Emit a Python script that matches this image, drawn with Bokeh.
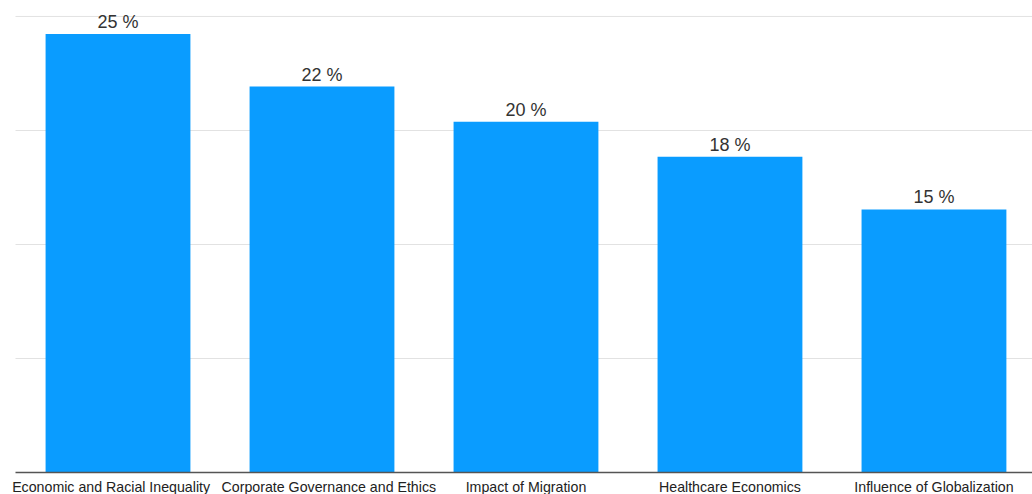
from bokeh.plotting import figure
from bokeh.models import ColumnDataSource, Range1d, LabelSet
from bokeh.core.properties import value
from bokeh.embed import file_html
from bokeh.resources import INLINE

# Research topics and their share of responses
categories = [
    "Economic and Racial Inequality",
    "Corporate Governance and Ethics",
    "Impact of Migration",
    "Healthcare Economics",
    "Influence of Globalization",
]
shares = [25, 22, 20, 18, 15]
value_labels = [f"{v} %" for v in shares]
grid_ticks = [6.5, 13, 19.5, 26]

WIDTH, HEIGHT = 1032, 494
X_START, X_END = -0.576, 4.483
Y_START, Y_END = -1.254, 26.91
PLOT_LEFT = -0.5025          # where the value grid begins
LABEL_PX = 14.2

positions = list(range(len(categories)))

# Category names sit under the baseline; nudge neighbours apart so the
# long names never run into each other.
px_per_unit = WIDTH / (X_END - X_START)
centers = [(x - X_START) * px_per_unit for x in positions]
widths = [len(c) * 0.475 * LABEL_PX for c in categories]
shift = [0.0] * len(categories)
min_gap = 12
for _ in range(20):
    for i in range(len(categories) - 1):
        right_i = centers[i] + shift[i] + widths[i] / 2
        left_j = centers[i + 1] + shift[i + 1] - widths[i + 1] / 2
        overlap = right_i + min_gap - left_j
        if overlap > 0:
            shift[i] -= overlap / 2
            shift[i + 1] += overlap / 2

bars = ColumnDataSource(dict(x=positions, share=shares, label=value_labels))
names = ColumnDataSource(dict(x=positions, y=[0] * len(positions),
                              name=categories, dx=shift))
grid = ColumnDataSource(dict(y=grid_ticks))

p = figure(
    width=WIDTH,
    height=HEIGHT,
    x_range=Range1d(X_START, X_END),
    y_range=Range1d(Y_START, Y_END),
    x_axis_location=None,
    y_axis_location=None,
    toolbar_location=None,
    output_backend="svg",
    min_border=0,
)
p.outline_line_color = None
p.background_fill_color = "white"
p.border_fill_color = "white"
p.xgrid.visible = False
p.ygrid.visible = False

# horizontal guide lines, starting at the left edge of the value area
p.segment(x0=PLOT_LEFT, x1=X_END, y0="y", y1="y", source=grid,
          line_color="#e2e2e2", line_width=1)

p.vbar(x="x", top="share", bottom=0, width=0.71, source=bars,
       fill_color="#0a9cff", line_color=None)

# baseline
p.segment(x0=PLOT_LEFT, x1=X_END, y0=0, y1=0,
          line_color="#555555", line_width=1.5)

# value on top of each bar
p.text(x="x", y="share", text="label", source=bars,
       text_align="center", text_baseline="bottom", y_offset=-2,
       text_font=value("Liberation Sans"), text_font_size="18px",
       text_color="#333333")

# category names
p.add_layout(LabelSet(x="x", y="y", text="name", source=names,
                      x_offset="dx", y_offset=-6,
                      text_align="center", text_baseline="top",
                      text_font=value("Liberation Sans"),
                      text_font_size=f"{LABEL_PX}px",
                      text_color="#222222"))

open("out.html", "w").write(file_html(p, INLINE))
